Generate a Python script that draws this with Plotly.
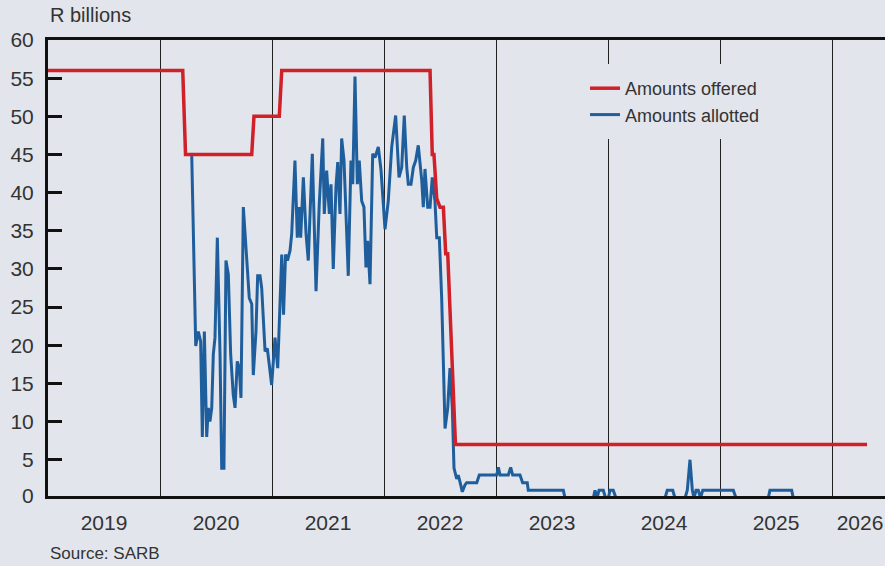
import plotly.graph_objects as go

# Amounts offered (R billions) – time in decimal years
offered_t = [2019.000, 2020.203, 2020.228, 2020.819, 2020.839, 2021.065, 2021.087,
             2022.411, 2022.431, 2022.446, 2022.471, 2022.500, 2022.530, 2022.551,
             2022.569, 2022.638, 2026.313]
offered_v = [56, 56, 45, 45, 50, 50, 56,
             56, 45, 45, 39.2, 38.1, 38.1, 32,
             32, 7, 7]

# Amounts allotted (R billions)
allotted_t = [
    2020.283, 2020.319, 2020.342, 2020.363, 2020.378, 2020.396, 2020.417, 2020.431,
    2020.446, 2020.462, 2020.476, 2020.491, 2020.512, 2020.536, 2020.551, 2020.571,
    2020.589, 2020.610, 2020.631, 2020.654, 2020.670, 2020.690, 2020.708, 2020.723,
    2020.744, 2020.774, 2020.797, 2020.819, 2020.833, 2020.857, 2020.872, 2020.893,
    2020.908, 2020.938, 2020.958, 2020.997, 2021.027, 2021.051, 2021.071, 2021.087,
    2021.103, 2021.121, 2021.138, 2021.161, 2021.176, 2021.205, 2021.226, 2021.241,
    2021.256, 2021.280, 2021.304, 2021.324, 2021.360, 2021.393, 2021.422, 2021.453,
    2021.467, 2021.488, 2021.512, 2021.527, 2021.547, 2021.571, 2021.587, 2021.607,
    2021.622, 2021.643, 2021.681, 2021.705, 2021.721, 2021.741, 2021.762, 2021.779,
    2021.801, 2021.821, 2021.839, 2021.854, 2021.875, 2021.899, 2021.920, 2021.949,
    2021.973, 2022.009, 2022.038, 2022.069, 2022.104, 2022.134, 2022.158, 2022.181,
    2022.203, 2022.217, 2022.241, 2022.262, 2022.283, 2022.306, 2022.337, 2022.351,
    2022.366, 2022.390, 2022.411, 2022.431, 2022.455, 2022.471, 2022.494, 2022.515,
    2022.529, 2022.545, 2022.569, 2022.589, 2022.610, 2022.625, 2022.649, 2022.663,
    2022.685, 2022.699, 2022.723, 2022.738, 2022.828, 2022.851, 2023.006, 2023.021,
    2023.036, 2023.110, 2023.131, 2023.149, 2023.214, 2023.238, 2023.279, 2023.288,
    2023.601, 2023.616, 2023.869, 2023.884, 2023.902, 2023.920, 2023.958, 2023.978,
    2024.003, 2024.018, 2024.047, 2024.071, 2024.509, 2024.529, 2024.578, 2024.598,
    2024.688, 2024.708, 2024.732, 2024.753, 2024.768, 2024.786, 2024.806, 2024.826,
    2024.846, 2025.119, 2025.143, 2025.431, 2025.446, 2025.640, 2025.654, 2025.950]
allotted_v = [
    45.1, 19.9, 21.8, 20.5, 8.0, 21.8, 8.0, 11.8,
    10.0, 11.8, 18.8, 21.0, 34.1, 18.8, 3.9, 3.9,
    31.1, 29.3, 18.8, 13.5, 11.8, 17.9, 17.0, 13.1,
    38.1, 30.6, 26.2, 25.4, 16.1, 21.8, 29.1, 29.1,
    27.5, 19.2, 19.6, 14.8, 21.0, 17.0, 24.0, 31.9,
    24.0, 31.9, 31.1, 32.4, 34.6, 44.2, 34.1, 38.1,
    34.1, 42.0, 34.6, 31.1, 45.1, 27.1, 38.5, 47.1,
    37.2, 42.9, 37.2, 41.1, 30.0, 40.7, 44.0, 37.2,
    47.1, 44.2, 29.1, 44.2, 41.1, 55.2, 41.1, 44.2,
    38.9, 38.1, 30.2, 33.7, 28.0, 45.1, 44.6, 46.0,
    43.0, 35.2, 38.9, 46.0, 50.1, 42.0, 43.3, 50.1,
    43.3, 41.1, 41.1, 43.3, 44.2, 46.2, 41.6, 38.1,
    43.1, 38.1, 38.1, 42.0, 38.9, 34.1, 34.1, 26.2,
    18.3, 9.1, 11.8, 17.0, 11.8, 3.9, 2.5, 3.0,
    1.7, 0.8, 1.7, 2.0, 2.0, 3.0, 3.0, 4.0,
    3.0, 3.0, 4.0, 3.0, 3.0, 2.0, 2.0, 1.0,
    1.0, 0.0, 0.0, 1.0, 0.0, 1.0, 1.0, 0.0,
    0.0, 1.0, 1.0, 0.0, 0.0, 1.0, 1.0, 0.0,
    0.0, 1.0, 5.0, 1.0, 0.0, 1.0, 1.0, 0.0,
    1.0, 1.0, 0.0, 0.0, 1.0, 1.0, 0.0, 0.0]

year_labels = ["2019", "2020", "2021", "2022", "2023", "2024", "2025", "2026"]
year_label_pos = [2019.5, 2020.5, 2021.5, 2022.5, 2023.5, 2024.5, 2025.5, 2026.25]
year_bounds = [2020, 2021, 2022, 2023, 2024, 2025, 2026]
y_tick_labels = [str(v) for v in range(0, 61, 5)]
Y_MIN = 0.25  # zero-level sits just under the thick base line, as in the original
y_tick_pos = [max(v, Y_MIN) for v in range(0, 61, 5)]

BG = "#E2E5EB"
RED = "#D0202A"
BLUE = "#1F5E9C"
TXT = "#333333"
FONT = "Liberation Sans, Arial, sans-serif"

fig = go.Figure()
fig.add_trace(go.Scatter(x=allotted_t, y=allotted_v, mode="lines", name="Amounts allotted",
                         line=dict(color=BLUE, width=3)))
fig.add_trace(go.Scatter(x=offered_t, y=offered_v, mode="lines", name="Amounts offered",
                         line=dict(color=RED, width=3.5)))

fig.update_layout(
    width=885, height=566,
    margin=dict(l=48, r=0, t=40, b=70),
    paper_bgcolor=BG, plot_bgcolor=BG,
    font=dict(family=FONT, size=21, color=TXT),
    showlegend=True,
    legend=dict(x=(579 - 48) / 837, y=(496 - 64) / 456, xanchor="left", yanchor="top",
                bgcolor=BG, bordercolor=BG, borderwidth=6,
                traceorder="reversed", font=dict(size=18, color=TXT)),
    xaxis=dict(range=[2019, 2019 + 837 / 112], tickmode="array",
               tickvals=year_label_pos, ticktext=year_labels, ticks="",
               showgrid=False, zeroline=False,
               showline=True, linecolor="#111111", linewidth=3, mirror=True,
               ticklabelstandoff=6,
               minor=dict(tickmode="array", tickvals=year_bounds, showgrid=True,
                          gridcolor="#222222", gridwidth=1, ticks="")),
    yaxis=dict(range=[Y_MIN, 60], tickmode="array", tickvals=y_tick_pos,
               ticktext=y_tick_labels,
               ticks="inside", ticklen=14, tickwidth=3, tickcolor="#111111",
               showgrid=False, zeroline=False,
               showline=True, linecolor="#111111", linewidth=3, mirror=False,
               ticklabelstandoff=7),
    annotations=[
        dict(text="R billions", xref="paper", yref="paper", x=0, y=(496 - 15) / 456,
             xanchor="left", yanchor="middle", showarrow=False,
             font=dict(size=20, color=TXT)),
        dict(text="Source: SARB", xref="paper", yref="paper", x=0, y=(496 - 553) / 456,
             xanchor="left", yanchor="middle", showarrow=False,
             font=dict(size=17, color=TXT)),
    ],
)

fig.write_html("out.html",
               config={"displayModeBar": False},
               post_script="document.body.style.margin='0px';"
                           "document.body.style.overflow='hidden';"
                           "document.body.style.background='" + BG + "';")
